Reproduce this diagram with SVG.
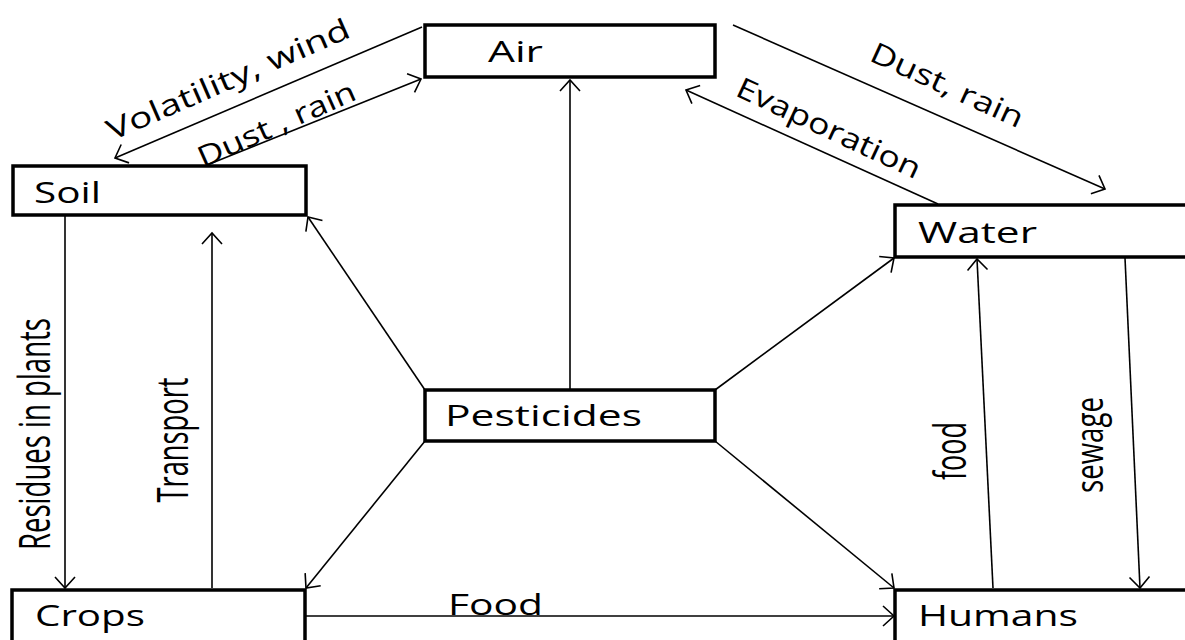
<svg xmlns="http://www.w3.org/2000/svg" width="1185" height="640" viewBox="0 0 1185 640">
<defs>
<marker id="arr" markerUnits="userSpaceOnUse" viewBox="-15 -15 30 30" markerWidth="30" markerHeight="30" refX="0" refY="0" orient="auto" overflow="visible">
<path d="M-11,-10 L0,0 L-11,10" fill="none" stroke="#000" stroke-width="1.6"/>
</marker>
<style>
.box{fill:#fff;stroke:#000;stroke-width:3.5}
.nt{font-family:"Open Sans","Noto Sans",sans-serif;font-size:29px;fill:#000}
.lt{font-family:"Open Sans","Noto Sans",sans-serif;font-size:29px;fill:#000}
.vt{font-family:"Open Sans","Noto Sans",sans-serif;font-size:44px;fill:#000}
.c line{stroke:#000;stroke-width:1.6;marker-end:url(#arr)}
</style>
</defs>
<rect width="1185" height="640" fill="#fff"/>
<g id="connectors" class="c">
<line x1="422" y1="27" x2="115" y2="158"/>
<line x1="207" y1="165" x2="421" y2="79"/>
<line x1="733" y1="25" x2="1105" y2="189"/>
<line x1="938" y1="204" x2="686" y2="90"/>
<line x1="570" y1="390" x2="570" y2="80"/>
<line x1="425" y1="390" x2="308" y2="217"/>
<line x1="715" y1="390" x2="894" y2="258"/>
<line x1="425" y1="441" x2="306" y2="588"/>
<line x1="715" y1="441" x2="894" y2="588"/>
<line x1="65" y1="216" x2="65" y2="588"/>
<line x1="212" y1="588" x2="212" y2="233"/>
<line x1="306" y1="616" x2="894" y2="616"/>
<line x1="993" y1="588" x2="977" y2="259"/>
<line x1="1125" y1="258" x2="1140" y2="588"/>
</g>
<g id="edge-labels">
<text class="lt" transform="translate(112,141) rotate(-23.5)" textLength="262" lengthAdjust="spacingAndGlyphs">Volatility, wind</text>
<text class="lt" transform="translate(203,168) rotate(-24)" textLength="170" lengthAdjust="spacingAndGlyphs">Dust , rain</text>
<text class="lt" transform="translate(868,60) rotate(24.5)" textLength="165" lengthAdjust="spacingAndGlyphs">Dust, rain</text>
<text class="lt" transform="translate(734,95) rotate(25)" textLength="200" lengthAdjust="spacingAndGlyphs">Evaporation</text>
<text class="vt" transform="translate(50,434) rotate(-90)" text-anchor="middle" textLength="232" lengthAdjust="spacingAndGlyphs">Residues in plants</text>
<text class="vt" transform="translate(188,440) rotate(-90)" text-anchor="middle" textLength="125" lengthAdjust="spacingAndGlyphs">Transport</text>
<text class="vt" transform="translate(966,451) rotate(-90)" text-anchor="middle" textLength="58" lengthAdjust="spacingAndGlyphs">food</text>
<text class="vt" transform="translate(1103,445) rotate(-90)" text-anchor="middle" textLength="96" lengthAdjust="spacingAndGlyphs" style="font-size:38px">sewage</text>
<text class="lt" x="448" y="615" textLength="95" lengthAdjust="spacingAndGlyphs">Food</text>
</g>
<g id="node-air"><rect class="box" x="425" y="25" width="290" height="52"/><text class="nt" x="488" y="62" textLength="55" lengthAdjust="spacingAndGlyphs">Air</text></g>
<g id="node-soil"><rect class="box" x="13" y="166" width="293" height="49"/><text class="nt" x="34" y="203" textLength="67" lengthAdjust="spacingAndGlyphs">Soil</text></g>
<g id="node-water"><rect class="box" x="895" y="205" width="300" height="52"/><text class="nt" x="918" y="243" textLength="119" lengthAdjust="spacingAndGlyphs">Water</text></g>
<g id="node-pesticides"><rect class="box" x="425" y="390" width="290" height="51"/><text class="nt" x="445" y="426" textLength="197" lengthAdjust="spacingAndGlyphs">Pesticides</text></g>
<g id="node-crops"><rect class="box" x="12" y="590" width="293" height="60"/><text class="nt" x="35" y="626" textLength="110" lengthAdjust="spacingAndGlyphs">Crops</text></g>
<g id="node-humans"><rect class="box" x="895" y="590" width="300" height="60"/><text class="nt" x="918" y="626" textLength="160" lengthAdjust="spacingAndGlyphs">Humans</text></g>
</svg>
